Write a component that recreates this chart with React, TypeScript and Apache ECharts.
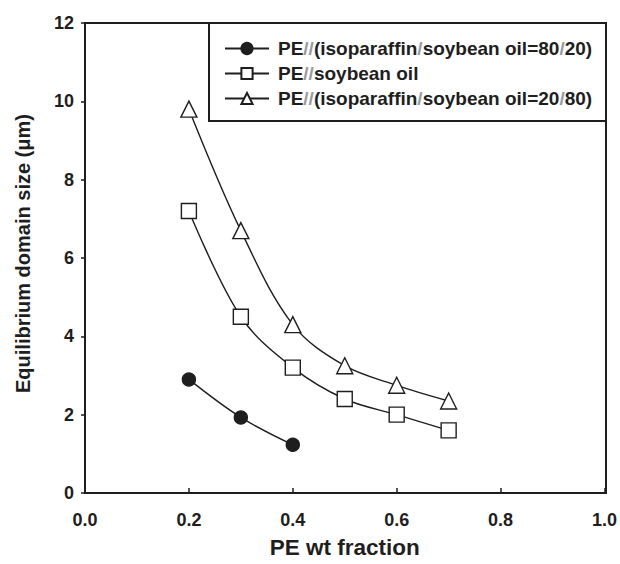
import React, { useEffect, useRef } from "react";
import * as echarts from "echarts";

const xValues = [0.2, 0.3, 0.4, 0.5, 0.6, 0.7];
const seriesNames = [
  "PE//(isoparaffin/soybean oil=80/20)",
  "PE//soybean oil",
  "PE//(isoparaffin/soybean oil=20/80)",
];
const circleValues = [2.9, 1.93, 1.23];
const squareValues = [7.2, 4.5, 3.2, 2.4, 2.0, 1.6];
const triangleValues = [9.8, 6.7, 4.3, 3.25, 2.75, 2.35];
const xTicks = [0, 0.2, 0.4, 0.6, 0.8, 1.0];
const yTicks = [0, 2, 4, 6, 8, 10, 12];

const FONT = "'Liberation Sans', Arial, Helvetica, sans-serif";
const INK = "#1e1e1e";

function pairs(vals: number[]) {
  return vals.map((v, i) => [xValues[i], v]);
}

export default function App() {
  const ref = useRef<HTMLDivElement>(null);
  useEffect(() => {
    document.body.style.margin = "0";
    if (!ref.current) return;
    const chart = echarts.init(ref.current, null, { renderer: "svg" });
    const lineStyle = { color: INK, width: 1.4 };
    const mk = (name: string, vals: number[], symbol: string, size: number, fill: string) => ({
      name,
      type: "line",
      data: pairs(vals),
      smooth: 0.35,
      symbol,
      symbolSize: size,
      showAllSymbol: true,
      lineStyle,
      itemStyle: { color: fill, borderColor: INK, borderWidth: 1.4 },
      emphasis: { disabled: true },
    });
    chart.setOption({
      animation: false,
      backgroundColor: "#ffffff",
      textStyle: { fontFamily: FONT },
      grid: { left: 85, right: 14, top: 23, bottom: 71, show: false },
      xAxis: {
        type: "value",
        min: xTicks[0],
        max: xTicks[xTicks.length - 1],
        interval: 0.2,
        name: "PE wt fraction",
        nameLocation: "middle",
        nameGap: 43,
        nameTextStyle: { fontFamily: FONT, fontWeight: "bold", fontSize: 22.5, color: INK },
        axisLine: { show: true, lineStyle: { color: INK, width: 2 } },
        axisTick: { show: true, inside: true, length: 5, lineStyle: { color: INK, width: 1.5 } },
        axisLabel: {
          margin: 18,
          fontFamily: FONT,
          fontWeight: "bold",
          fontSize: 18,
          color: INK,
          showMaxLabel: true,
          formatter: (v: number) => v.toFixed(1),
        },
        splitLine: { show: false },
      },
      yAxis: {
        type: "value",
        min: yTicks[0],
        max: yTicks[yTicks.length - 1],
        interval: 2,
        name: "Equilibrium domain size (\u03bcm)",
        nameLocation: "middle",
        nameGap: 52,
        nameTextStyle: { fontFamily: FONT, fontWeight: "bold", fontSize: 20, color: INK, padding: [0, 0, 0, 9] },
        axisLine: { show: true, lineStyle: { color: INK, width: 2 } },
        axisTick: { show: true, inside: false, length: 4, lineStyle: { color: INK, width: 1.5 } },
        axisLabel: {
          margin: 11,
          fontFamily: FONT,
          fontWeight: "bold",
          fontSize: 18,
          color: INK,
        },
        splitLine: { show: false },
      },
      legend: {
        orient: "vertical",
        left: 219,
        top: 34,
        itemWidth: 44,
        itemHeight: 14,
        itemGap: 6,
        selectedMode: false,
        data: seriesNames,
        formatter: (name: string) => name.replace(/\//g, "{s|/}"),
        textStyle: {
          fontFamily: FONT,
          fontWeight: "bold",
          fontSize: 19,
          color: INK,
          padding: [0, 0, 0, 4],
          rich: {
            s: { fontFamily: FONT, fontWeight: "bold", fontSize: 19, color: "#9a9a9a" },
          },
        },
      },
      graphic: [
        {
          type: "rect",
          z: 100,
          silent: true,
          shape: { x: 85, y: 23, width: 521, height: 470 },
          style: { fill: "none", stroke: INK, lineWidth: 2 },
        },
        {
          type: "rect",
          z: 100,
          silent: true,
          shape: { x: 209, y: 23, width: 397, height: 98 },
          style: { fill: "none", stroke: INK, lineWidth: 2 },
        },
      ],
      series: [
        mk(seriesNames[0], circleValues, "circle", 13, INK),
        mk(seriesNames[1], squareValues, "rect", 15, "#ffffff"),
        mk(seriesNames[2], triangleValues, "triangle", 16, "#ffffff"),
      ],
    });
    return () => chart.dispose();
  }, []);
  return <div ref={ref} style={{ width: 620, height: 564 }} />;
}
